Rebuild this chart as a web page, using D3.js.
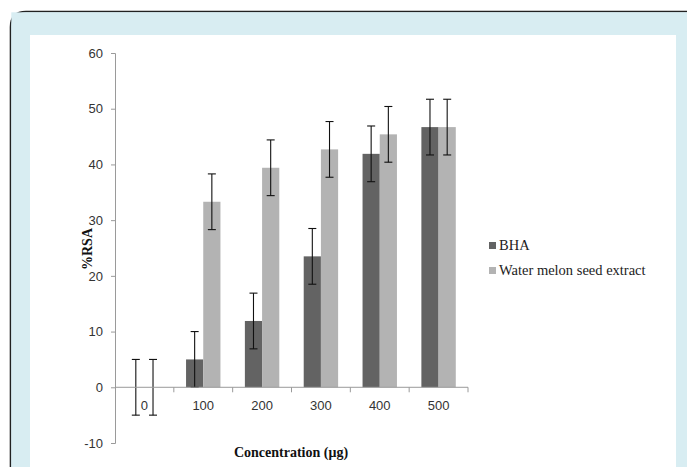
<!DOCTYPE html>
<html>
<head>
<meta charset="utf-8">
<script src="https://cdn.jsdelivr.net/npm/d3@7"></script>
<style>
  body { margin: 0; background: #d8edf2; overflow: hidden; }
  svg { display: block; }
</style>
</head>
<body>
<div id="dataviz"></div>
<script>
// chart values
var categories = ["0", "100", "200", "300", "400", "500"];
var seriesNames = ["BHA", "Water melon seed extract"];
var bhaValues = [0, 5.0, 11.9, 23.5, 41.9, 46.7];
var melonValues = [0, 33.3, 39.4, 42.7, 45.4, 46.7];
var errValues = [5, 5, 5, 5, 5, 5];
var yTicks = [-10, 0, 10, 20, 30, 40, 50, 60];

var widthFull = 687;
var heightFull = 467;
var colors = { "BHA": "#636363", "Water melon seed extract": "#b3b3b3" };

var svg = d3.select("#dataviz").append("svg")
    .attr("width", widthFull)
    .attr("height", heightFull);

// page frame: blue card with rounded dark border, white panel inside
svg.append("rect").attr("x", 0).attr("y", 0).attr("width", widthFull).attr("height", heightFull).attr("fill", "#ffffff");
svg.append("path")
    .attr("d", "M10.5," + (heightFull + 5) + " L10.5,27 Q10.5,11.5 26,11.5 L" + (widthFull + 5) + ",11.5")
    .attr("fill", "#d8edf2")
    .attr("stroke", "#222")
    .attr("stroke-width", 1.6);
svg.append("rect")
    .attr("x", 11.3).attr("y", 12.3)
    .attr("width", widthFull).attr("height", heightFull)
    .attr("fill", "#d8edf2");
svg.append("rect")
    .attr("x", 30).attr("y", 35)
    .attr("width", 646).attr("height", heightFull)
    .attr("fill", "#ffffff");

// scales
var x0 = d3.scaleBand().domain(categories).range([115, 468]).padding(0);
var barW = 17.2;
var x1 = d3.scaleBand().domain(seriesNames)
    .range([x0.bandwidth() / 2 - barW, x0.bandwidth() / 2 + barW]);
var y = d3.scaleLinear().domain([-10, 60]).range([443, 53]);

var rows = categories.map(function(c, i) {
    return { cat: c, values: [
        { name: seriesNames[0], v: bhaValues[i], e: errValues[i] },
        { name: seriesNames[1], v: melonValues[i], e: errValues[i] }
    ] };
});

// y axis
var yAxis = svg.append("g")
    .attr("transform", "translate(115,0)")
    .call(d3.axisLeft(y).tickValues(yTicks).tickSize(4).tickPadding(8)
        .tickFormat(function(d) { return String(d); }));
yAxis.select(".domain").attr("stroke", "#9a9a9a");
yAxis.selectAll(".tick line").attr("stroke", "#9a9a9a");
yAxis.selectAll(".tick text")
    .attr("fill", "#333")
    .style("font-family", "'Liberation Sans', Arial, sans-serif")
    .style("font-size", "13px");

// bars
var groups = svg.selectAll("g.grp").data(rows).enter().append("g")
    .attr("class", "grp")
    .attr("transform", function(d) { return "translate(" + x0(d.cat) + ",0)"; });

groups.selectAll("rect").data(function(d) { return d.values; }).enter().append("rect")
    .attr("x", function(d) { return x1(d.name); })
    .attr("width", x1.bandwidth())
    .attr("y", function(d) { return y(Math.max(0, d.v)); })
    .attr("height", function(d) { return Math.abs(y(d.v) - y(0)); })
    .attr("fill", function(d) { return colors[d.name]; });

// x axis line at zero with downward ticks at category boundaries
svg.append("line")
    .attr("x1", x0.range()[0]).attr("x2", x0.range()[1])
    .attr("y1", y(0)).attr("y2", y(0))
    .attr("stroke", "#9a9a9a");
var bounds = categories.slice(1).map(function(c) { return x0(c); }).concat([x0.range()[1]]);
svg.selectAll("line.xtick").data(bounds).enter().append("line")
    .attr("class", "xtick")
    .attr("x1", function(d) { return d; }).attr("x2", function(d) { return d; })
    .attr("y1", y(0)).attr("y2", y(0) + 5)
    .attr("stroke", "#9a9a9a");

svg.selectAll("text.xlab").data(categories).enter().append("text")
    .attr("class", "xlab")
    .attr("x", function(d) { return x0(d) + x0.bandwidth() / 2; })
    .attr("y", y(0) + 23)
    .attr("text-anchor", "middle")
    .attr("fill", "#333")
    .style("font-family", "'Liberation Sans', Arial, sans-serif")
    .style("font-size", "13px")
    .text(function(d) { return d; });

// error bars
var eb = groups.selectAll("g.err").data(function(d) { return d.values; }).enter().append("g")
    .attr("class", "err")
    .attr("stroke", "#111")
    .attr("stroke-width", 1.1);
eb.append("line")
    .attr("x1", function(d) { return x1(d.name) + x1.bandwidth() / 2; })
    .attr("x2", function(d) { return x1(d.name) + x1.bandwidth() / 2; })
    .attr("y1", function(d) { return y(d.v + d.e); })
    .attr("y2", function(d) { return y(d.v - d.e); });
[1, -1].forEach(function(s) {
    eb.append("line")
        .attr("x1", function(d) { return x1(d.name) + x1.bandwidth() / 2 - 4; })
        .attr("x2", function(d) { return x1(d.name) + x1.bandwidth() / 2 + 4; })
        .attr("y1", function(d) { return y(d.v + s * d.e); })
        .attr("y2", function(d) { return y(d.v + s * d.e); });
});

// axis titles
svg.append("text")
    .attr("x", 291).attr("y", 457)
    .attr("text-anchor", "middle")
    .attr("fill", "#111")
    .style("font-family", "'Liberation Serif', 'DejaVu Serif', serif")
    .style("font-weight", "bold")
    .style("font-size", "14px")
    .text("Concentration (\u03bcg)");

svg.append("text")
    .attr("transform", "translate(92,249) rotate(-90)")
    .attr("text-anchor", "middle")
    .attr("fill", "#111")
    .style("font-family", "'Liberation Serif', 'DejaVu Serif', serif")
    .style("font-weight", "bold")
    .style("font-size", "14px")
    .text("%RSA");

// legend
var leg = svg.selectAll("g.leg").data(seriesNames).enter().append("g")
    .attr("class", "leg")
    .attr("transform", function(d, i) { return "translate(489," + (242 + i * 25) + ")"; });
leg.append("rect").attr("width", 7).attr("height", 7)
    .attr("fill", function(d) { return colors[d]; });
leg.append("text").attr("x", 10).attr("y", 8)
    .attr("fill", "#222")
    .style("font-family", "'Liberation Serif', 'DejaVu Serif', serif")
    .style("font-size", "14.5px")
    .text(function(d) { return d; });
</script>
</body>
</html>
